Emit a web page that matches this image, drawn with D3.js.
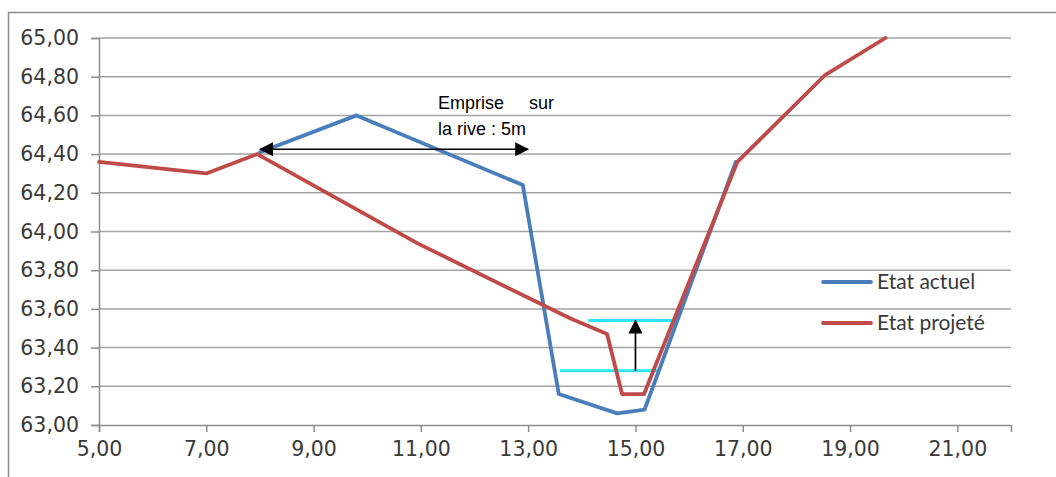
<!DOCTYPE html>
<html>
<head>
<meta charset="utf-8">
<script src="https://cdn.jsdelivr.net/npm/d3@7"></script>
<style>
  html, body { margin: 0; padding: 0; background: #fff; }
  svg { display: block; }
</style>
</head>
<body>
<svg id="chart" width="1056" height="477"></svg>
<script>
// Profil en travers : état actuel / état projeté
const actuelX = [8.0, 9.8, 12.9, 13.57, 14.66, 15.17, 16.87];
const actuelY = [64.41, 64.60, 64.24, 63.16, 63.06, 63.08, 64.36];

const projeteX = [5.0, 7.0, 7.95, 10.93, 13.79, 14.47, 14.75, 15.16, 16.9, 18.54, 19.66];
const projeteY = [64.36, 64.30, 64.40, 63.94, 63.55, 63.47, 63.16, 63.16, 64.36, 64.81, 65.0];

const xTicks = [5, 7, 9, 11, 13, 15, 17, 19, 21];
const yTicks = [63.0, 63.2, 63.4, 63.6, 63.8, 64.0, 64.2, 64.4, 64.6, 64.8, 65.0];

const seriesNames = ["Etat actuel", "Etat projeté"];
const seriesColors = ["#4a7ebb", "#be4b48"];

// Niveaux d'eau (avant / après) et emprise sur la rive
const niveauBasX = [13.59, 15.43];
const niveauBasY = 63.28;
const niveauHautX = [14.12, 15.68];
const niveauHautY = 63.54;
const flecheNiveauX = 15.0;
const empriseX = [8.0, 13.0];
const empriseY = 64.425;
const empriseLines = ["Emprise     sur", "la rive : 5m"];

const svg = d3.select("#chart");
const margin = { left: 99, right: 1011, top: 38, bottom: 425 };

const x = d3.scaleLinear().domain([5, 22]).range([margin.left, margin.right]);
const y = d3.scaleLinear().domain([63, 65]).range([margin.bottom, margin.top]);
const fmt = v => d3.format(".2f")(v).replace(".", ",");

// cadre extérieur
svg.append("rect")
  .attr("x", 8.5).attr("y", 12.5)
  .attr("width", 1100).attr("height", 500)
  .attr("fill", "none").attr("stroke", "#8a8a8a").attr("stroke-width", 1.5);

// quadrillage horizontal
svg.append("g").selectAll("line")
  .data(yTicks.filter(d => d > 63))
  .join("line")
  .attr("x1", x(5)).attr("x2", x(22))
  .attr("y1", d => y(d)).attr("y2", d => y(d))
  .attr("stroke", "#a3a3a3").attr("stroke-width", 1.5);

// axes
const yAxis = d3.axisLeft(y).tickValues(yTicks).tickFormat(fmt).tickSize(8).tickPadding(12);
const xAxis = d3.axisBottom(x).tickValues(xTicks).tickFormat(fmt).tickSize(7).tickPadding(9);

const gy = svg.append("g").attr("transform", `translate(${margin.left},0)`).call(yAxis);
const gx = svg.append("g").attr("transform", `translate(0,${margin.bottom})`).call(xAxis);

[gx, gy].forEach(g => {
  g.select(".domain").attr("stroke", "#8c8c8c").attr("stroke-width", 1.5);
  g.selectAll(".tick line").attr("stroke", "#8c8c8c").attr("stroke-width", 1.5);
  g.selectAll(".tick text")
    .attr("fill", "#3a3a3a")
    .style("font-family", "'DejaVu Sans', sans-serif")
    .style("font-size", "20.5px");
});

// niveaux d'eau
const cyan = "#2fe6f2";
svg.append("line")
  .attr("x1", x(niveauHautX[0])).attr("x2", x(niveauHautX[1]))
  .attr("y1", y(niveauHautY)).attr("y2", y(niveauHautY))
  .attr("stroke", cyan).attr("stroke-width", 3);
svg.append("line")
  .attr("x1", x(niveauBasX[0])).attr("x2", x(niveauBasX[1]))
  .attr("y1", y(niveauBasY)).attr("y2", y(niveauBasY))
  .attr("stroke", cyan).attr("stroke-width", 3);

// séries
const line = d3.line().x(d => x(d[0])).y(d => y(d[1]));
const actuel = d3.zip(actuelX, actuelY);
const projete = d3.zip(projeteX, projeteY);

svg.append("path").datum(actuel)
  .attr("d", line)
  .attr("fill", "none").attr("stroke", seriesColors[0])
  .attr("stroke-width", 3.8).attr("stroke-linejoin", "round").attr("stroke-linecap", "round");
svg.append("path").datum(projete)
  .attr("d", line)
  .attr("fill", "none").attr("stroke", seriesColors[1])
  .attr("stroke-width", 3.8).attr("stroke-linejoin", "round").attr("stroke-linecap", "round");

// flèches
const defs = svg.append("defs");
defs.append("marker")
  .attr("id", "head")
  .attr("viewBox", "0 0 14 14")
  .attr("refX", 13).attr("refY", 7)
  .attr("markerWidth", 14).attr("markerHeight", 14)
  .attr("markerUnits", "userSpaceOnUse")
  .attr("orient", "auto-start-reverse")
  .append("path").attr("d", "M0,0 L14,7 L0,14 Z").attr("fill", "#000");

svg.append("line")
  .attr("x1", x(empriseX[0])).attr("x2", x(empriseX[1]))
  .attr("y1", y(empriseY)).attr("y2", y(empriseY))
  .attr("stroke", "#000").attr("stroke-width", 1.7)
  .attr("marker-start", "url(#head)").attr("marker-end", "url(#head)");

svg.append("line")
  .attr("x1", x(flecheNiveauX)).attr("x2", x(flecheNiveauX))
  .attr("y1", y(niveauBasY)).attr("y2", y(niveauHautY))
  .attr("stroke", "#000").attr("stroke-width", 1.7)
  .attr("marker-end", "url(#head)");

// texte d'annotation
const ann = svg.append("text")
  .attr("x", 438).attr("y", 109)
  .attr("fill", "#000")
  .style("font-family", "'Liberation Sans', Arial, sans-serif")
  .style("font-size", "18px")
  .style("white-space", "pre");
ann.selectAll("tspan").data(empriseLines).join("tspan")
  .attr("x", 438).attr("dy", (d, i) => i === 0 ? 0 : 26)
  .text(d => d);

// légende
const legend = svg.append("g");
const legY = [282, 323];
seriesNames.forEach((name, i) => {
  legend.append("line")
    .attr("x1", 823).attr("x2", 871)
    .attr("y1", legY[i]).attr("y2", legY[i])
    .attr("stroke", seriesColors[i]).attr("stroke-width", 3.8)
    .attr("stroke-linecap", "round");
  legend.append("text")
    .attr("x", 877).attr("y", legY[i]).attr("dy", "0.35em")
    .attr("fill", "#3a3a3a")
    .style("font-family", "Lato, 'Noto Sans', sans-serif")
    .style("font-size", "21px")
    .text(name);
});
</script>
</body>
</html>
